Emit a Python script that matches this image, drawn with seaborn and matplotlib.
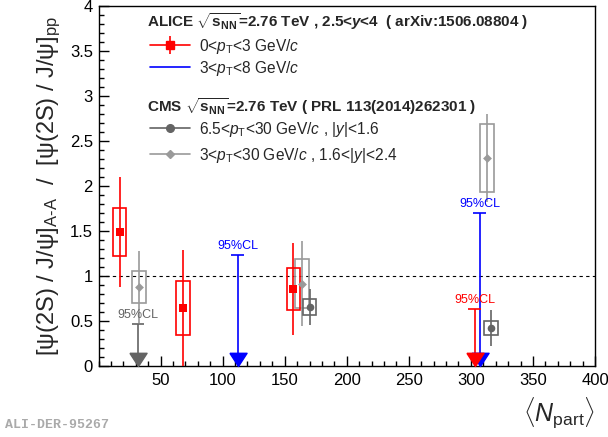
import numpy as np
import pandas as pd
import matplotlib
matplotlib.use('Agg')
import matplotlib.pyplot as plt
import seaborn as sns
from matplotlib.patches import Rectangle
from matplotlib.lines import Line2D
from matplotlib.legend_handler import HandlerTuple

# ALICE 0<pT<3 GeV/c (measured points)
alice_lo_npart = [17, 68, 157]
alice_lo_val = [1.49, 0.64, 0.855]
alice_lo_stat = [0.61, 0.65, 0.51]
alice_lo_syst = [0.27, 0.30, 0.23]
# ALICE 0<pT<3 upper limit
alice_lo_lim_npart = [303]
alice_lo_lim_val = [0.63]
# ALICE 3<pT<8 upper limits
alice_hi_lim_npart = [112, 307]
alice_hi_lim_val = [1.23, 1.70]

# CMS 6.5<pT<30, |y|<1.6
cms_mid_npart = [170, 316]
cms_mid_val = [0.66, 0.42]
cms_mid_stat = [0.20, 0.20]
cms_mid_syst = [0.09, 0.075]
cms_mid_lim_npart = [32]
cms_mid_lim_val = [0.47]

# CMS 3<pT<30, 1.6<|y|<2.4
cms_fwd_npart = [32.5, 164, 313]
cms_fwd_val = [0.88, 0.915, 2.31]
cms_fwd_stat = [0.40, 0.475, 0.49]
cms_fwd_syst = [0.175, 0.27, 0.375]

RED = '#ff0000'
BLUE = '#0000ff'
DGRAY = '#646464'
LGRAY = '#9a9a9a'
BOXW = 5.5

sns.set_style('ticks')
plt.rcParams['font.family'] = ['Liberation Sans', 'DejaVu Sans']
plt.rcParams['mathtext.fontset'] = 'custom'
plt.rcParams['mathtext.rm'] = 'Liberation Sans'
plt.rcParams['mathtext.it'] = 'Liberation Sans:italic'
plt.rcParams['mathtext.bf'] = 'Liberation Sans:bold'
if 'mathtext.bfit' in plt.rcParams:
    plt.rcParams['mathtext.bfit'] = 'Liberation Sans:italic:bold'
    ybold = r'$\mathbfit{y}$'
else:
    ybold = r'$\boldsymbol{y}$'

fig = plt.figure(figsize=(6.08, 4.37), dpi=100)
ax = fig.add_axes([98.5 / 608, 1 - 366 / 437, 496.5 / 608, 360 / 437])

# reference line
ax.axhline(1.0, color='black', lw=0.8, ls=(0, (3, 3)), zorder=1)


def draw_points(npart, val, stat, syst, color, marker, ms):
    for x, y, s, sy in zip(npart, val, stat, syst):
        ax.add_patch(Rectangle((x - BOXW, y - sy), 2 * BOXW, 2 * sy, fill=False,
                               edgecolor=color, lw=1.2, zorder=3))
    ax.errorbar(npart, val, yerr=stat, fmt='none', ecolor=color, elinewidth=1.2,
                capsize=0, zorder=3)
    df = pd.DataFrame({'npart': npart, 'val': val})
    sns.scatterplot(data=df, x='npart', y='val', marker=marker, s=ms ** 2, color=color,
                    edgecolor=color, linewidth=0, ax=ax, zorder=4, legend=False)


def draw_limits(npart, val, color):
    tip = [(-0.65, 1.0), (0.65, 1.0), (0.0, 0.0), (-0.65, 1.0)]
    for x, y in zip(npart, val):
        ax.vlines(x, 0, y, color=color, lw=1.2, zorder=3)
        ax.hlines(y, x - 5, x + 5, color=color, lw=1.2, zorder=3)
        ax.plot([x], [0], marker=tip, ms=19, color=color, ls='none', zorder=5,
                clip_on=False)
        ax.text(x, y + 0.035, '95%CL', color=color, ha='center', va='bottom',
                fontsize=9)


draw_points(cms_fwd_npart, cms_fwd_val, cms_fwd_stat, cms_fwd_syst, LGRAY, 'D', 4.5)
draw_points(cms_mid_npart, cms_mid_val, cms_mid_stat, cms_mid_syst, DGRAY, 'o', 5.5)
draw_points(alice_lo_npart, alice_lo_val, alice_lo_stat, alice_lo_syst, RED, 's', 5.5)
draw_limits(cms_mid_lim_npart, cms_mid_lim_val, DGRAY)
draw_limits(alice_hi_lim_npart, alice_hi_lim_val, BLUE)
draw_limits(alice_lo_lim_npart, alice_lo_lim_val, RED)

ax.set_xlim(0, 400)
ax.set_ylim(0, 4)
ax.set_xticks(np.arange(50, 401, 50))
ax.set_xticks(np.arange(0, 401, 10), minor=True)
ax.set_yticks(np.arange(0, 4.01, 0.5))
ax.set_yticks(np.arange(0, 4.01, 0.1), minor=True)
ax.set_yticklabels(['0', '0.5', '1', '1.5', '2', '2.5', '3', '3.5', '4'])
ax.tick_params(which='both', direction='in', width=1, colors='black', labelsize=12)
ax.tick_params(which='major', length=7)
ax.tick_params(which='minor', length=3.6)
ax.tick_params(axis='y', pad=4)
ax.tick_params(axis='x', pad=5)
for sp in ['top', 'right', 'left', 'bottom']:
    ax.spines[sp].set_visible(True)
    ax.spines[sp].set_color('black')
    ax.spines[sp].set_linewidth(1)

ax.set_xlabel(r'$\langle N_{\rm part}\rangle$', fontsize=18, loc='right', labelpad=6)
ax.set_ylabel(r'[ψ(2S) / J/ψ]$_{\text{A-A}}$  /  [ψ(2S) / J/ψ]$_{\rm pp}$',
              fontsize=17, labelpad=5)

# legend headers
fs_t = 11
fs = 11.2
sq = r'$\sqrt{\mathbf{s}_{\mathbf{NN}}}$'
ax.text(0.0977, 0.957, 'ALICE ' + sq + '=2.76 TeV , 2.5<' + ybold + '<4  ( arXiv:1506.08804 )',
        transform=ax.transAxes, fontsize=fs_t, weight='bold', va='center', ha='left')
ax.text(0.0977, 0.7194, 'CMS ' + sq + '=2.76 TeV ( PRL 113(2014)262301 )',
        transform=ax.transAxes, fontsize=fs_t, weight='bold', va='center', ha='left')

# legends
h_red = (Line2D([], [], color=RED, lw=1.2),
         Line2D([], [], color=RED, marker='s', ms=5.5, ls='none'),
         Line2D([], [], color=RED, marker='|', ms=13, mew=1.2, ls='none'))
h_blue = Line2D([], [], color=BLUE, lw=1.2)
leg1 = ax.legend([h_red, h_blue],
                 [r'0<$p_{\rm T}$<3 GeV/$c$', r'3<$p_{\rm T}$<8 GeV/$c$'],
                 handler_map={tuple: HandlerTuple(ndivide=1)},
                 loc='center left', bbox_to_anchor=(0.103, 0.858),
                 frameon=False, fontsize=fs, handlelength=2.6, handletextpad=0.55,
                 labelspacing=0.2, borderpad=0, borderaxespad=0)
ax.add_artist(leg1)

h_mid = Line2D([], [], color=DGRAY, lw=1.2, marker='o', ms=5.5)
h_fwd = Line2D([], [], color=LGRAY, lw=1.2, marker='D', ms=4.5)
leg2 = ax.legend([h_mid, h_fwd],
                 [r'6.5<$p_{\rm T}$<30 GeV/$c$ , |$y$|<1.6',
                  r'3<$p_{\rm T}$<30 GeV/$c$ , 1.6<|$y$|<2.4'],
                 loc='center left', bbox_to_anchor=(0.103, 0.622),
                 frameon=False, fontsize=fs, handlelength=2.6, handletextpad=0.55,
                 labelspacing=0.45, borderpad=0, borderaxespad=0)

fig.text(5 / 608, 1 - 425 / 437, 'ALI-DER-95267', family='Liberation Mono',
         weight='bold', color='#aaaaaa', fontsize=9.5, va='center', ha='left')

fig.savefig('out.png', dpi=100)
